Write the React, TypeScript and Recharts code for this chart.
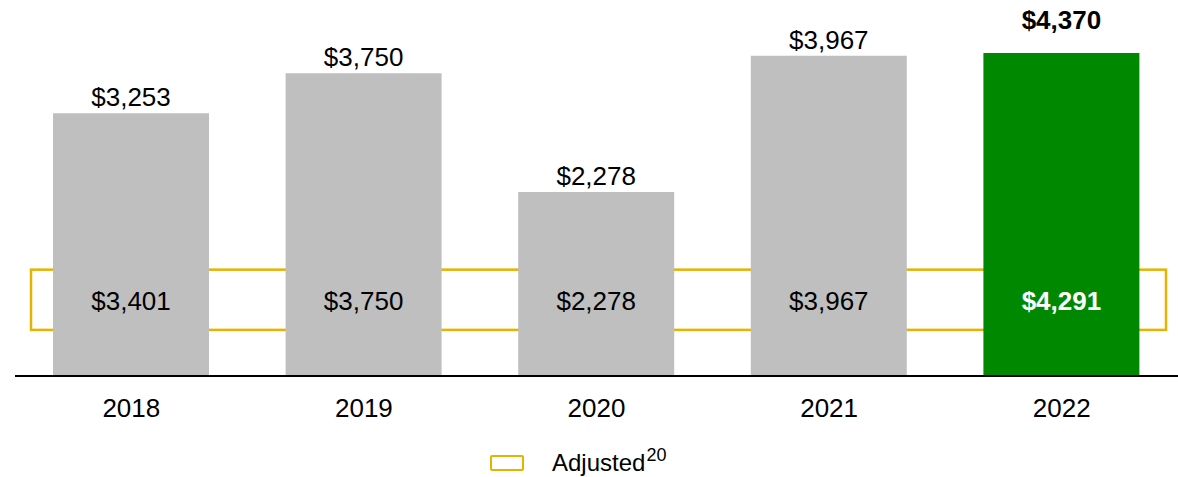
import { Bar, BarChart, Cell, LabelList, Legend, ReferenceArea, XAxis, YAxis } from "recharts";

const years = ["2018", "2019", "2020", "2021", "2022"];
const reported = [3253, 3750, 2278, 3967, 4370];
const adjusted = [3401, 3750, 2278, 3967, 4291];
const legendName = "Adjusted";
const legendNote = "20";

const data = years.map((year, i) => ({ year, reported: reported[i], adjusted: adjusted[i] }));

const FONT = '"Liberation Sans", Arial, sans-serif';
const GREY = "#bfbfbf";
const GREEN = "#008800";
const GOLD = "#e8b200";
const PLOT_TOP = 53;
const LAST = years.length - 1;

const money = (v: number) => `$${v.toLocaleString("en-US")}`;

function TopLabel(props: any) {
  const { x, y, width, value, index } = props;
  const top = Math.max(Number(y), PLOT_TOP);
  const hi = index === LAST;
  return (
    <text
      x={Number(x) + Number(width) / 2}
      y={hi ? top - 24 : top - 7}
      textAnchor="middle"
      fontFamily={FONT}
      fontSize={26}
      fontWeight={hi ? 700 : 400}
      fill="#000"
    >
      {money(Number(value))}
    </text>
  );
}

function InnerLabel(props: any) {
  const { x, y, width, height, value, index } = props;
  const hi = index === LAST;
  return (
    <text
      x={Number(x) + Number(width) / 2}
      y={Number(y) + Number(height) - 75}
      textAnchor="middle"
      dominantBaseline="central"
      fontFamily={FONT}
      fontSize={26}
      fontWeight={hi ? 700 : 400}
      fill={hi ? "#fff" : "#000"}
    >
      {money(Number(value))}
    </text>
  );
}

function AdjustedBox(props: any) {
  const { x, y, width, height } = props;
  return (
    <rect x={x + 16} y={y} width={width - 28} height={height} fill="none" stroke={GOLD} strokeWidth={2.5} />
  );
}

function LegendBox() {
  return (
    <div style={{ display: "flex", alignItems: "center", fontFamily: FONT, fontSize: 24, color: "#000" }}>
      <span
        style={{
          display: "inline-block",
          width: 30,
          height: 12,
          border: `2.5px solid ${GOLD}`,
          borderRadius: 2,
          marginRight: 28,
        }}
      />
      <span>
        {legendName}
        <sup style={{ fontSize: 18, verticalAlign: "top", position: "relative", top: -4, marginLeft: 1 }}>
          {legendNote}
        </sup>
      </span>
    </div>
  );
}

export default function App() {
  return (
    <div style={{ position: "fixed", left: 0, top: 0, background: "#fff" }}>
      <BarChart width={1178} height={477} data={data} margin={{ top: PLOT_TOP, right: 0, bottom: 0, left: 15 }}>
        <YAxis hide domain={[0, 4000]} allowDataOverflow />
        <XAxis
          dataKey="year"
          height={73}
          tickLine={false}
          tickSize={8}
          tickMargin={15}
          axisLine={{ stroke: "#000", strokeWidth: 2 }}
          tick={{ fill: "#000", fontSize: 26, fontFamily: FONT }}
        />
        <Bar dataKey="reported" barSize={156} isAnimationActive={false}>
          {data.map((d, i) => (
            <Cell key={d.year} fill={i === LAST ? GREEN : GREY} />
          ))}
          <LabelList dataKey="reported" content={<TopLabel />} />
          <LabelList dataKey="adjusted" content={<InnerLabel />} />
        </Bar>
        <ReferenceArea y1={571} y2={1317} shape={<AdjustedBox />} />
        <Legend
          verticalAlign="bottom"
          content={<LegendBox />}
          wrapperStyle={{ left: 490, top: 449, width: "auto", bottom: "auto" }}
        />
      </BarChart>
    </div>
  );
}
